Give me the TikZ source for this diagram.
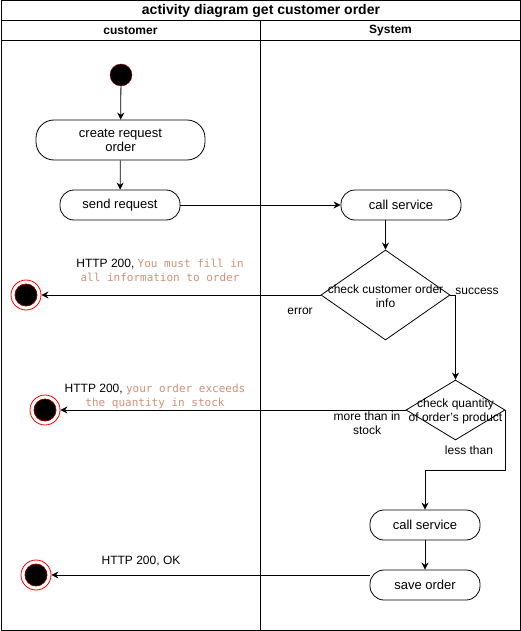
\documentclass[tikz,border=0pt]{standalone}
\usepackage{fontspec}
\setmainfont{Liberation Sans}
\newfontfamily\codefont{DejaVu Sans Mono}
\usetikzlibrary{arrows.meta, shapes.geometric}
\definecolor{codebrown}{HTML}{CE9178}
\newcommand{\msgfont}{\fontsize{11}{14}\selectfont\codefont\color{codebrown}}

\begin{document}
\begin{tikzpicture}[
    x=1pt, y=-1pt,
    arrow/.style={-{Stealth[length=7pt, width=7pt]}, line width=0.8pt},
    action/.style={draw, rounded corners=14pt, line width=0.8pt, minimum height=30pt, inner sep=0pt, font=\fontsize{13}{14}\selectfont, align=center},
    decision/.style={draw, diamond, line width=0.8pt, inner sep=0pt},
    txt/.style={font=\fontsize{12}{14}\selectfont, align=center, inner sep=0pt},
    startnode/.style={circle, fill=black, draw=red!60!black, minimum size=22pt, inner sep=0pt},
    endnode/.style={circle, draw=red, line width=0.8pt, minimum size=30pt, inner sep=0pt,
        path picture={\fill[black, draw=red!50!black] (path picture bounding box.center) circle (11pt);}}
]
    \useasboundingbox (0,0) rectangle (521,631);

    % === Swimlanes ===
    \draw[line width=1pt] (1,1) rectangle (520,630);
    \draw[line width=0.8pt] (1,20) -- (520,20);
    \draw[line width=0.8pt] (1,40) -- (520,40);
    \draw[line width=0.8pt] (260,20) -- (260,630);

    \node[font=\fontsize{14}{16}\selectfont\bfseries] (title) at (261,11) {activity diagram get customer order};
    \node[font=\fontsize{12}{14}\selectfont\bfseries] (lanecust) at (130.5,31) {customer};
    \node[font=\fontsize{12}{14}\selectfont\bfseries] (lanesys) at (390.5,31) {System};

    % === Customer lane ===
    \node[startnode] (start) at (121,75) {};
    \node[action, minimum width=169pt, minimum height=40pt, rounded corners=18pt] (create) at (120.5,140) {create request\\order};
    \node[action, minimum width=120pt] (send) at (120,205) {send request};

    \node[endnode] (end1) at (26,295) {};
    \node[endnode] (end2) at (45,410) {};
    \node[endnode] (end3) at (36,575) {};

    % === System lane ===
    \node[action, minimum width=120pt] (call1) at (401,205) {call service};
    \node[decision, minimum width=129pt, minimum height=90pt] (chk1) at (385.5,295) {};
    \node[txt] (chk1txt) at (385.5,296) {check customer order\\info};
    \node[decision, minimum width=99pt, minimum height=60pt] (chk2) at (455.5,410) {};
    \node[txt] (chk2txt) at (455.5,411) {check quantity\\of order's product};
    \node[action, minimum width=110pt] (call2) at (425,525) {call service};
    \node[action, minimum width=110pt] (save) at (425,585) {save order};

    % flow
    \draw[arrow] (start) -- (create);
    \draw[arrow] (create) -- (send);
    \draw[arrow] (send) -- (call1);
    \draw[arrow] (call1.south -| chk1.north) -- (chk1.north);
    \draw[arrow] (chk1.west) -- (end1);
    \draw[arrow] (chk1.east) -| (chk2.north);
    \draw[arrow] (chk2.west) -- (end2);
    \draw[arrow] (chk2.east) -- ++(0,60) -| (call2.north);
    \draw[arrow] (call2) -- (save);
    \draw[arrow] (save.west |- end3) -- (end3);

    % labels
    \node[txt] (lblerror) at (300,311) {error};
    \node[txt] (lblsuccess) at (477,291) {success};
    \node[txt] (lblmore) at (367,423) {more than in\\stock};
    \node[txt] (lblless) at (469,450) {less than};
    \node[txt] (lblmsg1) at (160,270) {HTTP 200, {\msgfont You must fill in}\\{\msgfont all information to order}};
    \node[txt] (lblmsg2) at (155,396) {HTTP 200, {\msgfont your order exceeds}\\{\msgfont the quantity in stock}};
    \node[txt] (lblok) at (141,561) {HTTP 200, OK};

\end{tikzpicture}
\end{document}
